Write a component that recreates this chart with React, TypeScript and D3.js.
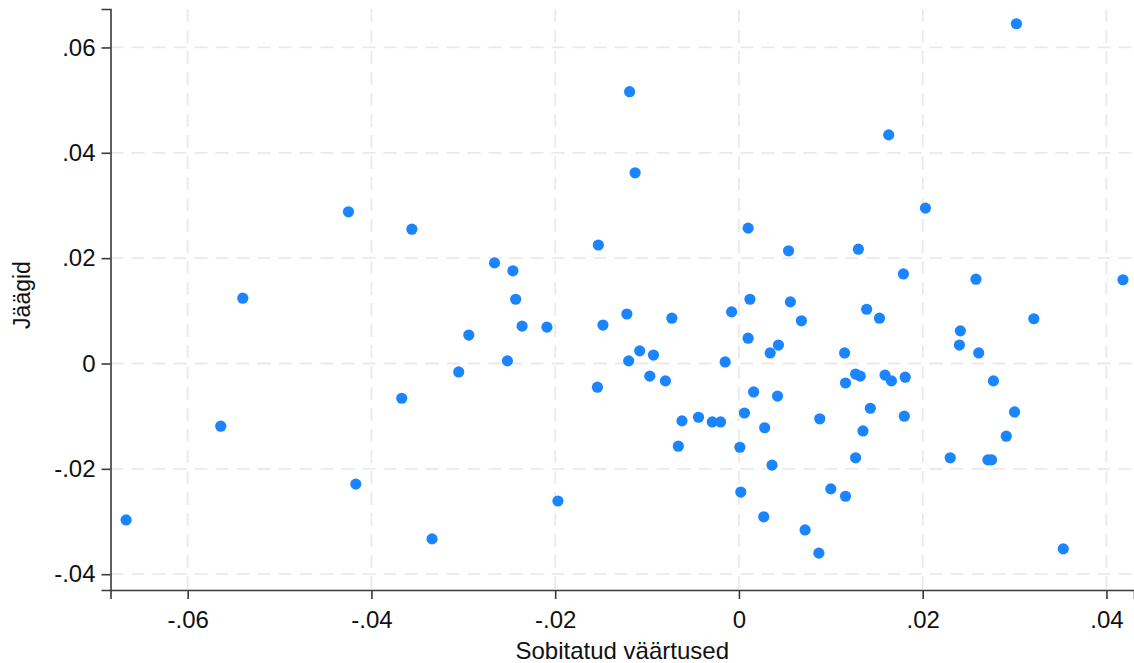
import React, { useEffect, useRef } from 'react';
import * as d3 from 'd3';

// Sobitatud väärtused (fitted values) and Jäägid (residuals)
const fitted = [
  -0.0667, -0.0564, -0.0540, -0.0425, -0.0417, -0.0356, -0.0367, -0.0334, -0.0305, -0.0294,
  -0.0266, -0.0252, -0.0246, -0.0243, -0.0236, -0.0209, -0.0197, -0.0154, -0.0153, -0.0148,
  -0.0122, -0.0119, -0.0120, -0.0113, -0.0108, -0.0097, -0.0093, -0.0080, -0.0073, -0.0066,
  -0.0062, -0.0044, -0.0029, -0.0020, -0.0015, -0.0008, 0.0001, 0.0002, 0.0006, 0.0010,
  0.0010, 0.0012, 0.0016, 0.0027, 0.0028, 0.0034, 0.0036, 0.0042, 0.0043, 0.0054,
  0.0056, 0.0068, 0.0072, 0.0087, 0.0088, 0.0100, 0.0115, 0.0116, 0.0116, 0.0127,
  0.0127, 0.0130, 0.0132, 0.0135, 0.0139, 0.0143, 0.0153, 0.0159, 0.0163, 0.0166,
  0.0179, 0.0181, 0.0180, 0.0203, 0.0230, 0.0241, 0.0240, 0.0258, 0.0261, 0.0271,
  0.0275, 0.0277, 0.0291, 0.0300, 0.0302, 0.0321, 0.0353, 0.0418
];

const residuals = [
  -0.0297, -0.0119, 0.0124, 0.0288, -0.0229, 0.0255, -0.0066, -0.0333, -0.0016, 0.0054,
  0.0191, 0.0005, 0.0176, 0.0122, 0.0071, 0.0069, -0.0261, -0.0045, 0.0225, 0.0073,
  0.0094, 0.0516, 0.0005, 0.0362, 0.0024, -0.0024, 0.0016, -0.0033, 0.0086, -0.0157,
  -0.0109, -0.0102, -0.0111, -0.0111, 0.0003, 0.0098, -0.0159, -0.0244, -0.0094, 0.0257,
  0.0048, 0.0122, -0.0054, -0.0291, -0.0122, 0.0020, -0.0193, -0.0062, 0.0035, 0.0214,
  0.0117, 0.0081, -0.0316, -0.0360, -0.0105, -0.0238, 0.0020, -0.0037, -0.0252, -0.0179,
  -0.0020, 0.0217, -0.0024, -0.0128, 0.0103, -0.0085, 0.0086, -0.0022, 0.0434, -0.0033,
  0.0170, -0.0026, -0.0100, 0.0295, -0.0179, 0.0062, 0.0035, 0.0160, 0.0020, -0.0183,
  -0.0183, -0.0033, -0.0138, -0.0092, 0.0645, 0.0085, -0.0352, 0.0159
];

const xTicks = [-0.06, -0.04, -0.02, 0, 0.02, 0.04];
const yTicks = [-0.04, -0.02, 0, 0.02, 0.04, 0.06];

const xTitle = 'Sobitatud väärtused';
const yTitle = 'Jäägid';

const fmt = (v: number) => {
  if (Math.abs(v) < 1e-9) return '0';
  return v.toFixed(2).replace('0.', '.');
};

const App: React.FC = () => {
  const svgRef = useRef<SVGSVGElement>(null);
  const width = 1134;
  const height = 663;

  useEffect(() => {
    if (!svgRef.current) return;
    const svg = d3.select(svgRef.current);
    svg.selectAll('*').remove();

    const left = 110.5;
    const right = 1134;
    const top = 9;
    const bottom = 590;

    const x = d3.scaleLinear().domain([-0.0684, 0.043]).range([left, right]);
    const y = d3.scaleLinear().domain([-0.043, 0.0673]).range([bottom, top]);

    const font = '"Liberation Sans", Arial, sans-serif';
    const gridColor = '#eaeaea';
    const axisColor = '#3a3a3a';

    // Grid
    const grid = svg.append('g');
    grid.selectAll('.hgrid')
      .data(yTicks)
      .enter().append('line')
      .attr('x1', left)
      .attr('x2', right)
      .attr('y1', d => y(d))
      .attr('y2', d => y(d))
      .attr('stroke', gridColor)
      .attr('stroke-width', 1.8)
      .attr('stroke-dasharray', '13,8');

    grid.selectAll('.vgrid')
      .data(xTicks)
      .enter().append('line')
      .attr('x1', d => x(d))
      .attr('x2', d => x(d))
      .attr('y1', top)
      .attr('y2', bottom)
      .attr('stroke', gridColor)
      .attr('stroke-width', 1.8)
      .attr('stroke-dasharray', '13,8');

    // X axis
    const xAxis = svg.append('g')
      .attr('transform', `translate(0,${bottom})`)
      .call(d3.axisBottom(x).tickValues(xTicks).tickSize(9).tickPadding(12).tickFormat(d => fmt(+d)));
    xAxis.select('.domain').attr('stroke', axisColor).attr('stroke-width', 1.6);
    xAxis.selectAll('.tick line').attr('stroke', axisColor).attr('stroke-width', 1.6);
    xAxis.selectAll('.tick text')
      .attr('fill', '#111')
      .style('font-family', font)
      .style('font-size', '24px');

    // Y axis
    const yAxis = svg.append('g')
      .attr('transform', `translate(${left},0)`)
      .call(d3.axisLeft(y).tickValues(yTicks).tickSize(9).tickPadding(6).tickFormat(d => fmt(+d)));
    yAxis.select('.domain').attr('stroke', axisColor).attr('stroke-width', 1.6);
    yAxis.selectAll('.tick line').attr('stroke', axisColor).attr('stroke-width', 1.6);
    yAxis.selectAll('.tick text')
      .attr('fill', '#111')
      .style('font-family', font)
      .style('font-size', '24px');

    // Axis titles
    svg.append('text')
      .attr('x', (left + right) / 2)
      .attr('y', 659)
      .attr('text-anchor', 'middle')
      .style('font-family', font)
      .style('font-size', '24px')
      .style('fill', '#111')
      .text(xTitle);

    svg.append('text')
      .attr('transform', `translate(30,295) rotate(-90)`)
      .attr('text-anchor', 'middle')
      .style('font-family', font)
      .style('font-size', '23px')
      .style('fill', '#111')
      .text(yTitle);

    // Points
    svg.append('g')
      .selectAll('circle')
      .data(fitted.map((f, i) => ({ f, r: residuals[i] })))
      .enter().append('circle')
      .attr('cx', d => x(d.f))
      .attr('cy', d => y(d.r))
      .attr('r', 5.6)
      .attr('fill', '#1a85ff');
  }, []);

  return (
    <svg
      ref={svgRef}
      width={width}
      height={height}
      style={{ position: 'absolute', left: 0, top: 0, background: 'white' }}
    />
  );
};

export default App;
